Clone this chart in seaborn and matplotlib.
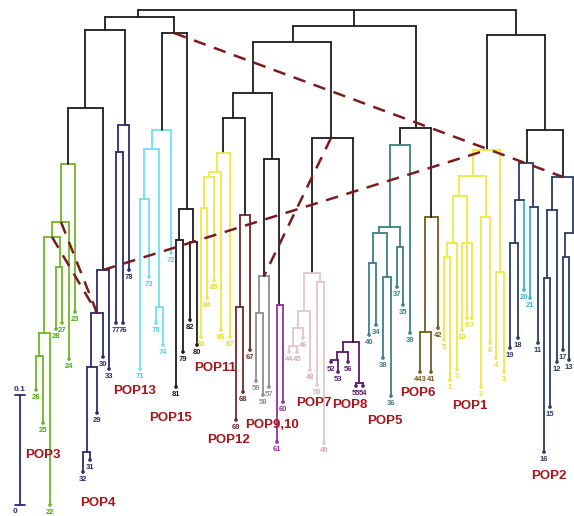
import pandas as pd
import seaborn as sns
import matplotlib.pyplot as plt

# Tree rows: (node, parent, x, height, colour key).
# Nodes whose name starts with a digit are leaves (label = text before "_").
top = [
    ("root", None, 327, 10, "k"),
    ("L", "root", 138, 17, "k"),
    ("M", "root", 354, 26, "k"),
    ("R", "root", 516, 35, "k"),
    ("LL", "L", 105, 30, "k"),
    ("LR", "L", 174, 33, "k"),
    ("LLa", "LL", 85, 108, "k"),
    ("LLb", "LL", 125, 125, "nv"),
    ("M1", "M", 293, 42, "k"),
    ("M2", "M", 416, 128, "k"),
    ("M1a", "M1", 253, 93, "k"),
    ("M1b", "M1", 331, 138, "k"),
    ("M1a1", "M1a", 233, 118, "k"),
    ("M1a2", "M1a", 272, 159, "k"),
    ("R2", "R", 545, 130, "k"),
]

pop3 = [
    ("G0", "LLa", 68, 164, "g"),
    ("23", "G0", 75, 312, "g"),
    ("GA", "G0", 61, 222, "g"),
    ("24", "GA", 69, 359, "g"),
    ("GB", "GA", 52, 237, "g"),
    ("GD", "GB", 60, 267, "g"),
    ("27", "GD", 62, 323, "g"),
    ("28", "GD", 56, 329, "g"),
    ("GC", "GB", 44, 333, "g"),
    ("22", "GC", 50, 505, "g"),
    ("GE", "GC", 39, 356, "g"),
    ("26", "GE", 36, 390, "g"),
    ("25", "GE", 43, 423, "g"),
]

pop4 = [
    ("N4a", "LLa", 103, 270, "nv"),
    ("N4b", "N4a", 97, 313, "nv"),
    ("33", "N4a", 109, 369, "nv"),
    ("N4c", "N4b", 91, 367, "nv"),
    ("30", "N4b", 103, 357, "nv"),
    ("N4d", "N4c", 87, 452, "nv"),
    ("29", "N4c", 97, 413, "nv"),
    ("31", "N4d", 90, 460, "nv"),
    ("32", "N4d", 83, 472, "nv"),
    ("78", "LLb", 129, 270, "nv"),
    ("LLc", "LLb", 118, 152, "nv"),
    ("77", "LLc", 116, 323, "nv"),
    ("76", "LLc", 123, 323, "nv"),
]

pop13 = [
    ("C1", "LR", 162, 130, "c"),
    ("72", "C1", 171, 253, "c"),
    ("C2", "C1", 152, 149, "c"),
    ("C3", "C2", 144, 199, "c"),
    ("C4", "C2", 159, 307, "c"),
    ("71", "C3", 140, 369, "c"),
    ("73", "C3", 149, 277, "c"),
    ("75", "C4", 156, 323, "c"),
    ("74", "C4", 163, 345, "c"),
]

pop15 = [
    ("B1", "LR", 187, 209, "k"),
    ("B2", "B1", 179, 240, "k"),
    ("B3", "B1", 193, 242, "k"),
    ("81", "B2", 176, 387, "k"),
    ("79", "B2", 183, 352, "k"),
    ("82", "B3", 190, 320, "k"),
    ("80", "B3", 197, 345, "k"),
]

pop11 = [
    ("Y1", "M1a1", 223, 153, "y"),
    ("Y2", "Y1", 217, 172, "y"),
    ("87", "Y1", 230, 337, "y"),
    ("Y3", "Y2", 209, 177, "y"),
    ("86", "Y2", 221, 330, "y"),
    ("Y4", "Y3", 204, 208, "y"),
    ("85", "Y3", 214, 280, "y"),
    ("83", "Y4", 201, 337, "y"),
    ("84", "Y4", 207, 298, "y"),
]

pop12 = [
    ("P12", "M1a1", 245, 215, "m"),
    ("P12a", "P12", 240, 307, "m"),
    ("67", "P12", 250, 350, "m"),
    ("69", "P12a", 236, 420, "m"),
    ("68", "P12a", 243, 392, "m"),
]

pop9_10 = [
    ("P9", "M1a2", 264, 276, "gr"),
    ("P9a", "P9", 259, 313, "gr"),
    ("57", "P9", 269, 387, "gr"),
    ("59", "P9a", 256, 381, "gr"),
    ("58", "P9a", 263, 395, "gr"),
    ("P10", "M1a2", 279, 305, "p"),
    ("61", "P10", 277, 442, "p"),
    ("60", "P10", 283, 402, "p"),
]

pop7 = [
    ("P7", "M1b", 312, 273, "pk"),
    ("P7a", "P7", 304, 311, "pk"),
    ("P7b", "P7a", 298, 328, "pk"),
    ("P7c", "P7b", 293, 346, "pk"),
    ("44", "P7c", 289, 352, "pk"),
    ("45", "P7c", 297, 352, "pk"),
    ("46", "P7b", 303, 338, "pk"),
    ("48", "P7a", 310, 370, "pk"),
    ("P7d", "P7", 320, 282, "pk"),
    ("50", "P7d", 317, 385, "pk"),
    ("49", "P7d", 324, 443, "pk"),
]

pop8 = [
    ("P8", "M1b", 353, 342, "dp"),
    ("P8a", "P8", 343, 352, "dp"),
    ("P8b", "P8a", 337, 360, "dp"),
    ("52", "P8b", 331, 362, "dp"),
    ("53", "P8b", 338, 372, "dp"),
    ("56", "P8a", 348, 362, "dp"),
    ("P8c", "P8", 359, 383, "dp"),
    ("55", "P8c", 356, 386, "dp"),
    ("54", "P8c", 363, 386, "dp"),
]

pop5 = [
    ("T0", "M2", 400, 145, "t"),
    ("T1", "T0", 390, 227, "t"),
    ("39", "T0", 410, 333, "t"),
    ("T2", "T1", 379, 233, "t"),
    ("T3", "T1", 400, 247, "t"),
    ("T4", "T2", 373, 263, "t"),
    ("T5", "T2", 387, 277, "t"),
    ("40", "T4", 369, 335, "t"),
    ("34", "T4", 376, 325, "t"),
    ("38", "T5", 383, 358, "t"),
    ("36", "T5", 391, 396, "t"),
    ("37", "T3", 397, 287, "t"),
    ("35", "T3", 403, 305, "t"),
]

pop6 = [
    ("B6", "M2", 431, 217, "br"),
    ("B6a", "B6", 425, 332, "br"),
    ("42", "B6", 438, 328, "br"),
    ("443", "B6a", 420, 372, "br"),
    ("41", "B6a", 431, 372, "br"),
]

pop1 = [
    ("Y0", "R", 487, 150, "y"),
    ("Ya", "Y0", 473, 176, "y"),
    ("Yb", "Y0", 500, 272, "y"),
    ("Yc", "Ya", 459, 196, "y"),
    ("Yd", "Ya", 486, 217, "y"),
    ("Ye", "Yc", 453, 243, "y"),
    ("Yf", "Yc", 467, 243, "y"),
    ("Yg", "Ye", 447, 257, "y"),
    ("5", "Yg", 444, 340, "y"),
    ("1", "Yg", 450, 380, "y"),
    ("3", "Ye", 457, 369, "y"),
    ("10", "Yf", 462, 330, "y"),
    ("9", "Yf", 467, 318, "y"),
    ("7", "Yf", 472, 318, "y"),
    ("2", "Yd", 481, 387, "y"),
    ("6", "Yd", 490, 343, "y"),
    ("4", "Yb", 496, 358, "y"),
    ("3_b", "Yb", 504, 372, "y"),
]

pop2 = [
    ("Q1", "R2", 527, 163, "n2"),
    ("Q2", "R2", 563, 177, "n2"),
    ("Q3", "Q1", 519, 200, "n2"),
    ("Q4", "Q1", 533, 207, "n2"),
    ("Q5", "Q3", 515, 243, "n2"),
    ("19", "Q5", 510, 348, "n2"),
    ("18", "Q5", 518, 338, "n2"),
    ("20", "Q3", 524, 290, "c2"),
    ("21", "Q4", 530, 298, "c2"),
    ("11", "Q4", 538, 343, "n2"),
    ("Q6", "Q2", 552, 210, "n2"),
    ("Q7", "Q6", 547, 278, "n2"),
    ("16", "Q7", 544, 452, "n2"),
    ("15", "Q7", 550, 407, "n2"),
    ("12", "Q6", 557, 362, "n2"),
    ("Q8", "Q2", 573, 233, "n2"),
    ("Q9", "Q8", 565, 257, "n2"),
    ("17", "Q9", 563, 350, "n2"),
    ("13", "Q9", 569, 360, "n2"),
    ("14", "Q8", 577, 330, "n2"),
]

# dashed links between nodes
links = [("LR", "Q2"), ("N4a", "Y0"), ("M1b", "P9"), ("GA", "N4b"), ("GB", "N4b")]

# population names and their label centres
pop_names = ["POP3", "POP4", "POP13", "POP15", "POP11", "POP12", "POP9,10",
             "POP7", "POP8", "POP5", "POP6", "POP1", "POP2"]
pop_label_x = [43, 98, 135, 170, 215, 228, 272, 314, 350, 385, 418, 470, 549]
pop_label_y = [455, 503, 391, 418, 368, 440, 425, 403, 405, 421, 393, 406, 476]

# scale bar (0 to 0.1)
scale_labels = ["0", "0.1"]
scale_y = [505, 395]

palette = {
    "k": "#1c1c1c", "g": "#72b52a", "nv": "#2b2d6e", "c": "#6fe3ec",
    "y": "#efe845", "m": "#6e2b2b", "gr": "#8e8e8e", "p": "#9a2caa",
    "pk": "#e2c6cf", "dp": "#5a1a72", "t": "#3e8086", "br": "#7a5a20",
    "n2": "#2f3d62", "c2": "#3cb3cc",
}
label_palette = dict(palette, g="#3fae12", c="#45d3e0", y="#e6dc2a", pk="#d9a9b8")
dash_colour = "#7b1c1c"
pop_colour = "#a3161a"

df = pd.DataFrame(top + pop3 + pop4 + pop13 + pop15 + pop11 + pop12 + pop9_10
                  + pop7 + pop8 + pop5 + pop6 + pop1 + pop2,
                  columns=["node", "parent", "x", "y", "colour"])
df["leaf"] = df["node"].str[0].str.isdigit()
df["label"] = df["node"].str.split("_").str[0]
pos = df.set_index("node")

# build segments: vertical edge above each node, horizontal bar joining children
rows = []
seg = 0
for r in df.itertuples():
    if r.parent is None:
        continue
    p = pos.loc[r.parent]
    col = r.colour if r.leaf else p.colour
    rows += [(seg, r.x, p.y, col), (seg, r.x, r.y, col)]
    seg += 1
for name, kids in df.dropna(subset=["parent"]).groupby("parent"):
    p = pos.loc[name]
    rows += [(seg, kids.x.min(), p.y, p.colour), (seg, kids.x.max(), p.y, p.colour)]
    seg += 1
segs = pd.DataFrame(rows, columns=["seg", "x", "y", "colour"])

sns.set_theme(style="white")
plt.rcParams["font.family"] = ["Liberation Sans", "DejaVu Sans"]
fig = plt.figure(figsize=(5.74, 5.16), dpi=100)
ax = fig.add_axes([0, 0, 1, 1])

for key, grp in segs.groupby("colour"):
    sns.lineplot(data=grp, x="x", y="y", units="seg", estimator=None, sort=False,
                 color=palette[key], linewidth=1.3, legend=False, ax=ax)

for a, b in links:
    pa, pb = pos.loc[a], pos.loc[b]
    ax.plot([pa.x, pb.x], [pa.y, pb.y], color=dash_colour, lw=1.8,
            dashes=(5, 3.5), zorder=3)

leaves = df[df["leaf"]]
sns.scatterplot(data=leaves, x="x", y="y", hue="colour", palette=palette,
                s=7, linewidth=0, legend=False, ax=ax, zorder=4)
for r in leaves.itertuples():
    if r.x >= 574:  # beyond the right edge, label not visible
        continue
    ax.text(r.x, r.y + 4, r.label, ha="center", va="top", fontsize=5.5,
            fontweight="bold", color=label_palette[r.colour])

for name, x, y in zip(pop_names, pop_label_x, pop_label_y):
    ax.text(x, y, name, ha="center", va="center", fontsize=9.5,
            fontweight="bold", color=pop_colour)

# scale bar
ax.plot([20, 20], scale_y, color=palette["nv"], lw=1.3)
for y in scale_y:
    ax.plot([15, 25], [y, y], color=palette["nv"], lw=1.3)
for lab, y in zip(scale_labels, scale_y):
    if lab == "0":
        ax.text(15, y + 3, lab, ha="center", va="top", fontsize=6,
                fontweight="bold", color=palette["nv"])
    else:
        ax.text(20, y - 2, lab, ha="center", va="bottom", fontsize=6,
                fontweight="bold", color=palette["nv"])

ax.set_xlim(0, 574)
ax.set_ylim(516, 0)
ax.set_axis_off()

fig.savefig("out.png", dpi=100)
